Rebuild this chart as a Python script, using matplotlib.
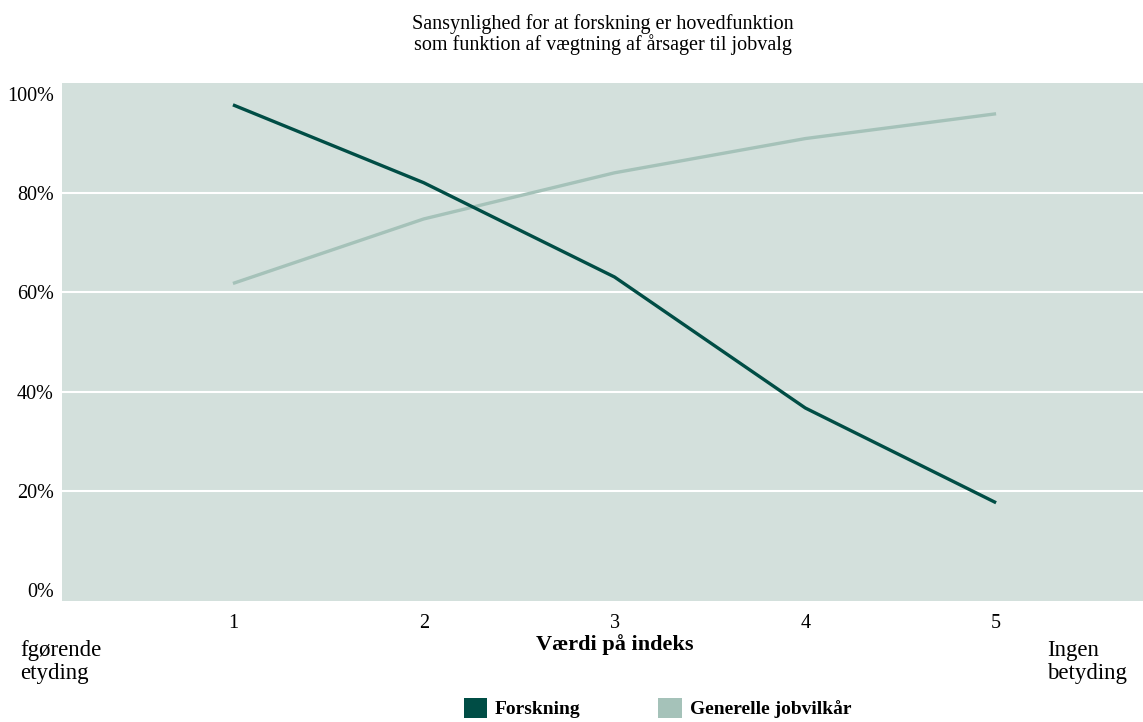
import numpy as np
import matplotlib
matplotlib.use('Agg')
import matplotlib.pyplot as plt
from matplotlib.patches import Patch

# data
index_values = [1, 2, 3, 4, 5]
forskning = [97.8, 82.1, 63.1, 36.7, 17.6]
jobvilkaar = [61.8, 74.8, 84.1, 91.0, 96.0]
y_ticks = [0, 20, 40, 60, 80, 100]

DARK = '#004d45'
LIGHT = '#a5c2b9'
BG = '#d3e0dc'

plt.rcParams['font.family'] = ['Liberation Serif', 'DejaVu Serif']

fig = plt.figure(figsize=(11.43, 7.22), dpi=100)
ax = fig.add_axes([62 / 1143, 1 - 601 / 722, 1 - 62 / 1143, (601 - 83) / 722])
ax.set_facecolor(BG)

ax.plot(index_values, jobvilkaar, color=LIGHT, lw=2.4, solid_capstyle='butt')
ax.plot(index_values, forskning, color=DARK, lw=2.4, solid_capstyle='butt')

ax.set_xlim(0.104, 5.77)
ax.set_ylim(-2.2, 102.2)
ax.set_yticks(y_ticks)
ax.set_yticklabels([f'{v}%' for v in y_ticks])
ax.set_xticks(index_values)
ax.tick_params(length=0, labelsize=14.5, colors='black')
ax.tick_params(axis='x', pad=9)
ax.tick_params(axis='y', pad=6)
for v in y_ticks[1:-1]:
    ax.axhline(v, color='white', lw=1.5, zorder=0.5)
for s in ax.spines.values():
    s.set_visible(False)

ax.text(3, -11, 'Værdi på indeks', transform=ax.transData, ha='center',
        va='center', fontsize=16, fontweight='bold')

fig.text(0.5 * (62 + 1143) / 1143 + 0.0, 1 - 35 / 722,
         'Sansynlighed for at forskning er hovedfunktion\n'
         'som funktion af vægtning af årsager til jobvalg',
         ha='center', va='center', fontsize=14.5, linespacing=1.0)

fig.text(20 / 1143, 1 - 662 / 722, 'fgørende\netyding', ha='left',
         va='center', fontsize=16.5, linespacing=1.15)
fig.text(1047 / 1143, 1 - 662 / 722, 'Ingen\nbetyding', ha='left',
         va='center', fontsize=16.5, linespacing=1.15)

handles = [Patch(facecolor=DARK, label='Forskning'),
           Patch(facecolor=LIGHT, label='Generelle jobvilkår')]
fig.legend(handles=handles, loc='upper left', ncol=2, frameon=False,
           bbox_to_anchor=(458 / 1143, 1 - 692 / 722),
           prop={'size': 14, 'weight': 'bold'},
           handlelength=1.2, handleheight=1.2, handletextpad=0.4,
           columnspacing=4.0, borderaxespad=0, borderpad=0.3)

fig.savefig('out.png', dpi=100)
